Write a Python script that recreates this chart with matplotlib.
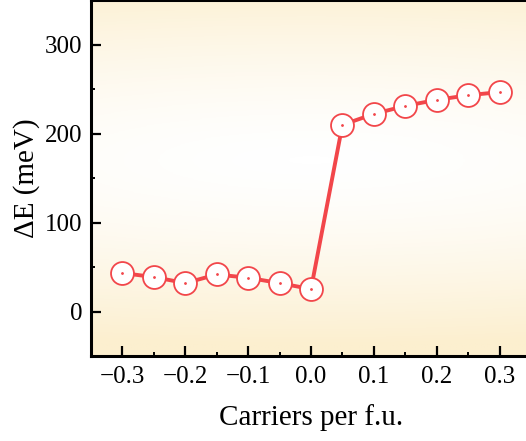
import numpy as np
import matplotlib.pyplot as plt
from matplotlib.colors import LinearSegmentedColormap

# Data
carriers = [-0.30, -0.25, -0.20, -0.15, -0.10, -0.05, 0.00, 0.05, 0.10, 0.15, 0.20, 0.25, 0.30]
delta_e = [43.2, 38.7, 31.9, 41.6, 37.9, 31.9, 25.2, 209.7, 222.0, 231.0, 237.8, 243.0, 246.5]
x_ticks = [-0.3, -0.2, -0.1, 0.0, 0.1, 0.2, 0.3]
y_ticks = [0, 100, 200, 300]

plt.rcParams['font.family'] = ['Liberation Serif', 'DejaVu Serif']

red = '#f2464a'
cream = '#fcefcf'

fig = plt.figure(figsize=(5.26, 4.41), dpi=100)
ax = fig.add_axes([91 / 526, 85 / 441, 440 / 526, 356 / 441])

# soft background gradient: cream at top and bottom, white in the middle
yy, xx = np.mgrid[0:1:300j, 0:1:300j]
dist = np.sqrt(((yy - 0.55) / 0.52) ** 2 + ((xx - 0.5) / 2.2) ** 2)
dist = np.clip(dist, 0, 1) ** 1.5
cmap = LinearSegmentedColormap.from_list('bg', ['#ffffff', cream])
ax.imshow(dist, extent=[0, 1, 0, 1], transform=ax.transAxes, cmap=cmap,
          vmin=0, vmax=1, aspect='auto', zorder=0, origin='lower')

ax.plot(carriers, delta_e, color=red, lw=2.8, zorder=2, solid_capstyle='round')
ax.plot(carriers, delta_e, 'o', ms=16.5, mfc='white', mec=red, mew=1.3, zorder=3)
ax.plot(carriers, delta_e, '.', ms=2, color=red, zorder=4)

ax.set_xlim(-0.35, 0.35)
ax.set_ylim(-50, 350)
ax.set_xticks(x_ticks)
ax.set_xticklabels(['\u22120.3', '\u22120.2', '\u22120.1', '0.0', '0.1', '0.2', '0.3'])
ax.set_xticks(np.arange(-0.35, 0.36, 0.05), minor=True)
ax.set_yticks(y_ticks)
ax.set_yticks([-50, 50, 150, 250, 350], minor=True)

ax.tick_params(which='major', direction='in', length=7, width=1.6, labelsize=18, pad=7)
ax.tick_params(which='minor', direction='in', length=3, width=1.4)
ax.tick_params(axis='y', which='both', pad=6)

for s in ax.spines.values():
    s.set_linewidth(2.2)

ax.set_xlabel('Carriers per f.u.', fontsize=21, labelpad=12)
ax.set_ylabel('\u0394E (meV)', fontsize=21, labelpad=4)

fig.savefig('out.png', dpi=100)
